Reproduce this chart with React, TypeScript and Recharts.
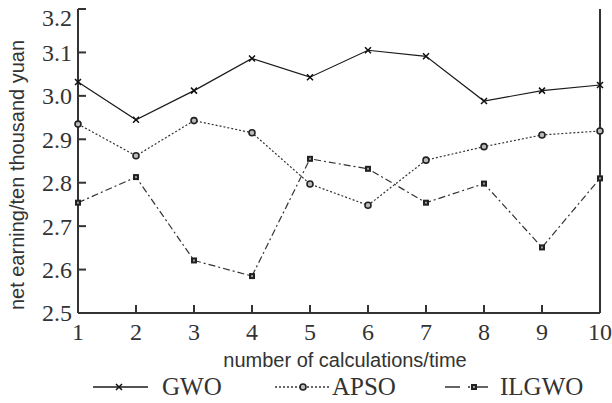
import React from 'react';
import { LineChart, Line, XAxis, YAxis } from 'recharts';

const iterations = [1, 2, 3, 4, 5, 6, 7, 8, 9, 10];
const gwo = [3.032, 2.945, 3.012, 3.086, 3.043, 3.105, 3.091, 2.988, 3.012, 3.025];
const apso = [2.935, 2.862, 2.943, 2.915, 2.797, 2.748, 2.852, 2.883, 2.91, 2.919];
const ilgwo = [2.754, 2.813, 2.621, 2.585, 2.855, 2.832, 2.754, 2.798, 2.651, 2.81];
const yTicks = [2.5, 2.6, 2.7, 2.8, 2.9, 3.0, 3.1, 3.2];
const seriesNames = ['GWO', 'APSO', 'ILGWO'];
const xTitle = 'number of calculations/time';
const yTitle = 'net earning/ten thousand yuan';

const data = iterations.map((x, i) => ({ x, gwo: gwo[i], apso: apso[i], ilgwo: ilgwo[i] }));

const AXIS = '#333';
const TEXT = '#333';
const SERIF = '"Liberation Serif", "Times New Roman", serif';
const SANS = '"Liberation Sans", Arial, sans-serif';
const TICK_LEN = 8;
const X_MARGIN = 10;
const Y_MARGIN = 6;

const CrossMark = ({ cx, cy }: any) => (
  <path d={`M${cx - 3},${cy - 3}L${cx + 3},${cy + 3}M${cx - 3},${cy + 3}L${cx + 3},${cy - 3}`} stroke="#111" strokeWidth={1.5} fill="none" />
);
const CircleMark = ({ cx, cy }: any) => (
  <circle cx={cx} cy={cy} r={3} stroke="#222" strokeWidth={1.6} fill="#bbb" />
);
const SquareMark = ({ cx, cy }: any) => (
  <g>
    <rect x={cx - 3} y={cy - 3} width={6} height={6} fill="#222" />
    <rect x={cx - 1} y={cy - 1} width={2} height={2} fill="#999" />
  </g>
);

function XTick(props: any) {
  const { x, y, payload } = props;
  return (
    <g>
      <path d={`M${x},${y - X_MARGIN}V${y - X_MARGIN - TICK_LEN}`} stroke={AXIS} strokeWidth={2} fill="none" />
      <text x={x} y={y} dy="0.71em" textAnchor="middle" fontFamily={SERIF} fontSize={24} fill={TEXT}>
        {payload.value}
      </text>
    </g>
  );
}
function YTick(props: any) {
  const { x, y, payload } = props;
  return (
    <g>
      <path d={`M${x + Y_MARGIN},${y}H${x + Y_MARGIN + TICK_LEN}`} stroke={AXIS} strokeWidth={2} fill="none" />
      <text x={x} y={y + (payload.value >= 3.2 ? 9 : 0)} dy="0.35em" textAnchor="end" fontFamily={SERIF} fontSize={24} fill={TEXT}>
        {Number(payload.value).toFixed(1)}
      </text>
    </g>
  );
}
function TopTick(props: any) {
  const { x, y } = props;
  return <path d={`M${x},${y}V${y + TICK_LEN}`} stroke={AXIS} strokeWidth={2} fill="none" />;
}
function RightTick(props: any) {
  const { x, y } = props;
  return <path d={`M${x},${y}H${x - TICK_LEN}`} stroke={AXIS} strokeWidth={2} fill="none" />;
}

export default function App() {
  return (
    <div style={{ position: 'absolute', left: 0, top: 0, width: 612, height: 403, background: '#fff' }}>
      <LineChart width={612} height={403} data={data} margin={{ top: 9, right: 11, left: 0, bottom: 36 }}>
        <XAxis
          dataKey="x"
          type="number"
          domain={[1, 10]}
          ticks={iterations}
          height={54}
          tickSize={0}
          tickMargin={X_MARGIN}
          tick={(p: any) => <XTick {...p} />}
          tickLine={false}
          stroke={AXIS}
          strokeWidth={2}
          label={{
            content: () => (
              <text x={345} y={367} textAnchor="middle" fontFamily={SANS} fontSize={20} fill={TEXT}>
                {xTitle}
              </text>
            ),
          }}
        />
        <XAxis
          xAxisId="top"
          orientation="top"
          dataKey="x"
          type="number"
          domain={[1, 10]}
          ticks={iterations}
          height={0}
          tickSize={0}
          tickMargin={0}
          tick={(p: any) => <TopTick {...p} />}
          tickLine={false}
          stroke={AXIS}
          strokeWidth={2}
        />
        <YAxis
          type="number"
          domain={[2.5, 3.2]}
          ticks={yTicks}
          width={78}
          tickSize={0}
          tickMargin={Y_MARGIN}
          tick={(p: any) => <YTick {...p} />}
          tickLine={false}
          stroke={AXIS}
          strokeWidth={2}
          label={{
            content: () => (
              <text x={24} y={175} transform="rotate(-90, 24, 175)" textAnchor="middle" fontFamily={SANS} fontSize={20} fill={TEXT}>
                {yTitle}
              </text>
            ),
          }}
        />
        <YAxis
          yAxisId="right"
          orientation="right"
          type="number"
          domain={[2.5, 3.2]}
          ticks={yTicks}
          width={1}
          tickSize={0}
          tickMargin={0}
          tick={(p: any) => <RightTick {...p} />}
          tickLine={false}
          stroke={AXIS}
          strokeWidth={2}
        />
        <Line dataKey="gwo" name={seriesNames[0]} stroke="#1a1a1a" strokeWidth={1.2} dot={(p: any) => <CrossMark key={p.key ?? p.index} {...p} />} isAnimationActive={false} />
        <Line dataKey="apso" name={seriesNames[1]} stroke="#333" strokeWidth={1.2} strokeDasharray="2 2" dot={(p: any) => <CircleMark key={p.key ?? p.index} {...p} />} isAnimationActive={false} />
        <Line dataKey="ilgwo" name={seriesNames[2]} stroke="#333" strokeWidth={1.2} strokeDasharray="7 3 2 3" dot={(p: any) => <SquareMark key={p.key ?? p.index} {...p} />} isAnimationActive={false} />
      </LineChart>
      <svg width={612} height={403} style={{ position: 'absolute', left: 0, top: 0, pointerEvents: 'none' }}>
        <line x1={93} y1={387} x2={148} y2={387} stroke="#1a1a1a" strokeWidth={1.5} />
        <CrossMark cx={119} cy={387} />
        <text x={162} y={395} fontFamily={SERIF} fontSize={25} fill={TEXT}>{seriesNames[0]}</text>
        <line x1={275} y1={387} x2={330} y2={387} stroke="#333" strokeWidth={1.5} strokeDasharray="2 2" />
        <CircleMark cx={303} cy={387} />
        <text x={332} y={395} fontFamily={SERIF} fontSize={25} fill={TEXT}>{seriesNames[1]}</text>
        <line x1={445} y1={387} x2={493} y2={387} stroke="#333" strokeWidth={1.5} strokeDasharray="15 8 2 3" />
        <SquareMark cx={474} cy={387} />
        <text x={500} y={395} fontFamily={SERIF} fontSize={25} fill={TEXT}>{seriesNames[2]}</text>
      </svg>
    </div>
  );
}
